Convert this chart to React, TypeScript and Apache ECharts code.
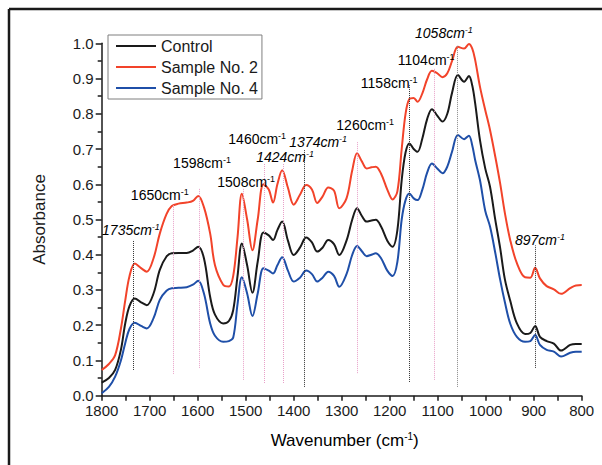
import React, { useEffect, useRef } from "react";
import * as echarts from "echarts";

// Wavenumber grid (cm^-1) at which the three spectra were read
const wavenumbers = [
  1800, 1785, 1772, 1760, 1751, 1742, 1731, 1718, 1706, 1692, 1679, 1665, 1654, 1640, 1623, 1610,
  1599, 1587, 1574, 1564, 1547, 1535, 1526, 1517, 1508, 1497, 1486, 1475, 1463, 1452, 1443, 1434,
  1424, 1412, 1400, 1387, 1374, 1362, 1351, 1340, 1328, 1316, 1305, 1290, 1278, 1268, 1258, 1248,
  1238, 1229, 1218, 1205, 1194, 1184, 1175, 1167, 1159, 1150, 1142, 1132, 1122, 1112, 1101, 1090,
  1080, 1070, 1058, 1045, 1035, 1028, 1022, 1012, 1001, 991, 980, 970, 960, 949, 935, 918, 907, 897,
  887, 873, 858, 843, 824, 812, 800,
];

const control = [
  0.037, 0.05, 0.073, 0.13, 0.205, 0.255, 0.276, 0.265, 0.257, 0.29, 0.357, 0.395, 0.404, 0.405, 0.405, 0.412,
  0.423, 0.39, 0.28, 0.23, 0.205, 0.212, 0.243, 0.34, 0.432, 0.37, 0.292, 0.38, 0.463, 0.455, 0.442, 0.47,
  0.494, 0.44, 0.399, 0.42, 0.449, 0.435, 0.409, 0.42, 0.442, 0.43, 0.399, 0.44, 0.5, 0.532, 0.51, 0.494,
  0.497, 0.499, 0.48, 0.44, 0.423, 0.47, 0.612, 0.69, 0.716, 0.7, 0.692, 0.73, 0.785, 0.813, 0.795, 0.778,
  0.8, 0.86, 0.91, 0.891, 0.907, 0.88, 0.83, 0.726, 0.645, 0.593, 0.499, 0.42, 0.33, 0.27, 0.205, 0.175, 0.178, 0.198,
  0.167, 0.155, 0.148, 0.128, 0.144, 0.147, 0.147,
];

const sample2 = [
  0.073, 0.09, 0.115, 0.19, 0.27, 0.34, 0.375, 0.362, 0.352, 0.39, 0.46, 0.515, 0.538, 0.545, 0.548, 0.553,
  0.567, 0.535, 0.46, 0.37, 0.315, 0.31, 0.34, 0.45, 0.573, 0.5, 0.413, 0.5, 0.6, 0.585, 0.548, 0.6,
  0.64, 0.59, 0.542, 0.57, 0.598, 0.585, 0.547, 0.565, 0.591, 0.582, 0.532, 0.56, 0.64, 0.688, 0.665, 0.645,
  0.648, 0.65, 0.63, 0.585, 0.557, 0.58, 0.7, 0.8, 0.842, 0.845, 0.834, 0.858, 0.898, 0.922, 0.915, 0.904,
  0.915, 0.95, 0.99, 0.985, 0.998, 0.985, 0.953, 0.877, 0.811, 0.754, 0.678, 0.603, 0.518, 0.442, 0.376, 0.336, 0.335, 0.363,
  0.333, 0.311, 0.302, 0.289, 0.305, 0.313, 0.314,
];

const sample4 = [
  0.007, 0.025, 0.054, 0.1, 0.149, 0.19, 0.207, 0.198, 0.191, 0.22, 0.272, 0.298, 0.305, 0.306, 0.308, 0.315,
  0.326, 0.29, 0.205, 0.17, 0.153, 0.155, 0.165, 0.26, 0.336, 0.29, 0.226, 0.29, 0.362, 0.355, 0.347, 0.37,
  0.393, 0.355, 0.324, 0.335, 0.355, 0.345, 0.324, 0.335, 0.352, 0.34, 0.309, 0.345, 0.4, 0.425, 0.41, 0.396,
  0.4, 0.404, 0.39, 0.355, 0.34, 0.38, 0.5, 0.555, 0.574, 0.56, 0.555, 0.585, 0.633, 0.659, 0.645, 0.631,
  0.65, 0.693, 0.74, 0.728, 0.738, 0.71, 0.669, 0.612, 0.525, 0.48, 0.405, 0.33, 0.265, 0.205, 0.167, 0.153, 0.155, 0.172,
  0.144, 0.13, 0.125, 0.111, 0.122, 0.125, 0.125,
];

const seriesNames = ["Control", "Sample No. 2", "Sample No. 4"];

// Peak annotations
const peakLabels = ["1735", "1650", "1598", "1508", "1460", "1424", "1374", "1260", "1158", "1104", "1058", "897"];
const peakItalic = [true, false, false, false, false, true, true, false, false, false, true, true];
const peakLineAt = [1735, 1651, 1597, 1505, 1462, 1422, 1377, 1268, 1159, 1108, 1059, 897];
const peakLineKind = ["k", "p", "p", "p", "p", "p", "k", "p", "k", "p", "g", "k"];
const peakLineTop = [0.442, 0.541, 0.587, 0.589, 0.66, 0.66, 0.697, 0.72, 0.881, 0.93, 0.995, 0.427];
const peakLineBottom = [0.073, 0.062, 0.079, 0.045, 0.036, 0.036, 0.025, 0.064, 0.039, 0.045, 0.025, 0.079];
const peakLabelX = [1739, 1679, 1591, 1499, 1476, 1418, 1349, 1251, 1201, 1124, 1087, 887];
const peakLabelY = [0.47, 0.57, 0.66, 0.606, 0.728, 0.677, 0.72, 0.768, 0.887, 0.953, 1.029, 0.442];

const FONT = "'Liberation Sans', Arial, Helvetica, sans-serif";
const INK = "#1a1a1a";
const COLORS = ["#1a1a1a", "#f2432a", "#1f4fa8"];
const LINE_KIND_COLOR: Record<string, string> = { k: "#333333", p: "#e8a0c8", g: "#888888" };

const supRich = (size: number, supSize: number, italic: boolean) => ({
  n: { fontSize: size, lineHeight: size + 1, fontFamily: FONT, color: INK, fontStyle: italic ? "italic" : "normal" },
  s: {
    fontSize: supSize,
    lineHeight: supSize,
    fontFamily: FONT,
    color: INK,
    fontStyle: italic ? "italic" : "normal",
    verticalAlign: "top",
  },
});

export default function App() {
  const ref = useRef<HTMLDivElement>(null);

  useEffect(() => {
    if (!ref.current) return;
    const chart = echarts.init(ref.current, undefined, { renderer: "svg" });

    const seriesData = [control, sample2, sample4].map((vals) =>
      wavenumbers.map((w, i) => [w, vals[i]])
    );

    const markLineData = peakLineAt.map((x, i) => [
      {
        coord: [x, peakLineBottom[i]],
        lineStyle: { color: LINE_KIND_COLOR[peakLineKind[i]], type: "dotted", width: 1 },
      },
      { coord: [x, peakLineTop[i]] },
    ]);

    chart.setOption({
      animation: false,
      backgroundColor: "#ffffff",
      grid: { left: 101.7, right: 20.3, top: 43.3, bottom: 69.3, containLabel: false },
      legend: {
        orient: "vertical",
        left: 108,
        top: 35,
        data: seriesNames,
        icon: "rect",
        itemWidth: 40,
        itemHeight: 2,
        itemGap: 5,
        padding: [3, 4, 3, 8],
        borderColor: "#7f7f7f",
        borderWidth: 1,
        backgroundColor: "#ffffff",
        textStyle: { fontSize: 16, fontFamily: FONT, color: INK },
      },
      xAxis: {
        type: "value",
        inverse: true,
        min: 800,
        max: 1800,
        interval: 100,
        axisLine: { onZero: false, lineStyle: { color: INK, width: 1.5 } },
        axisTick: { inside: false, length: 5, lineStyle: { color: INK, width: 1.5 } },
        minorTick: { show: true, splitNumber: 2, length: 5, lineStyle: { color: INK, width: 1.5 } },
        axisLabel: {
          fontSize: 15,
          fontFamily: FONT,
          color: INK,
          margin: 7,
          formatter: (v: number) => String(v),
        },
        splitLine: { show: false },
      },
      yAxis: {
        type: "value",
        min: 0,
        max: 1,
        interval: 0.1,
        name: "Absorbance",
        nameLocation: "middle",
        nameGap: 54,
        nameTextStyle: { fontSize: 17, fontFamily: FONT, color: INK },
        axisLine: { show: true, onZero: false, lineStyle: { color: INK, width: 1.5 } },
        axisTick: { show: true, inside: false, length: 6, lineStyle: { color: INK, width: 1.5 } },
        minorTick: { show: true, splitNumber: 2, length: 4, lineStyle: { color: INK, width: 1.5 } },
        axisLabel: {
          fontSize: 15,
          fontFamily: FONT,
          color: INK,
          margin: 8,
          formatter: (v: number) => v.toFixed(1),
        },
        splitLine: { show: false },
      },
      series: [
        ...seriesNames.map((name, k) => ({
          name,
          type: "line",
          data: seriesData[k],
          smooth: 0.35,
          showSymbol: false,
          symbol: "none",
          lineStyle: { color: COLORS[k], width: 2 },
          itemStyle: { color: COLORS[k] },
          z: 3,
        })),
        {
          name: "annotations",
          type: "line",
          data: [],
          silent: true,
          z: 2,
          markLine: {
            silent: true,
            symbol: ["none", "none"],
            label: { show: false },
            data: markLineData,
          },
        },
      ],
    });

    // Peak labels and axis title placed through the chart's own coordinate system
    const labelGraphics = peakLabels.map((lab, i) => {
      const [px, py] = chart.convertToPixel({ gridIndex: 0 }, [peakLabelX[i], peakLabelY[i]]) as number[];
      return {
        type: "text",
        x: px,
        y: py,
        silent: true,
        z: 10,
        style: {
          text: `{n|${lab}cm}{s|-1}`,
          rich: supRich(14, 9, peakItalic[i]),
          align: "center",
          verticalAlign: "middle",
        },
      };
    });

    const [gx0] = chart.convertToPixel({ gridIndex: 0 }, [1800, 0]) as number[];
    const [gx1, gy0] = chart.convertToPixel({ gridIndex: 0 }, [800, 0]) as number[];

    chart.setOption({
      graphic: [
        {
          type: "line",
          shape: { x1: 9, y1: 9, x2: 602, y2: 9 },
          style: { stroke: INK, lineWidth: 2.5 },
        },
        {
          type: "line",
          shape: { x1: 9, y1: 9, x2: 9, y2: 465 },
          style: { stroke: INK, lineWidth: 2.5 },
        },
        {
          type: "text",
          x: (gx0 + gx1) / 2 + 3,
          y: gy0 + 45,
          silent: true,
          style: {
            text: "{n|Wavenumber (cm}{s|-1}{n|)}",
            rich: supRich(17, 10, false),
            align: "center",
            verticalAlign: "middle",
          },
        },
        ...labelGraphics,
      ],
    });

    return () => chart.dispose();
  }, []);

  return (
    <div
      ref={ref}
      style={{ position: "fixed", left: 0, top: 0, width: 602, height: 465, background: "#fff" }}
    />
  );
}
